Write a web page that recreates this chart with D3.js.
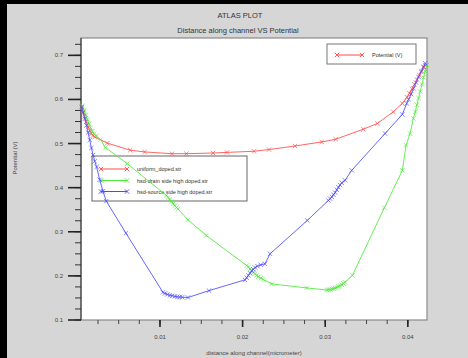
<!DOCTYPE html>
<html>
<head>
<meta charset="utf-8">
<script src="https://cdn.jsdelivr.net/npm/d3@7"></script>
<style>
body { margin: 0; background: #d6d6d6; }
svg { display: block; font-family: "Liberation Sans", Arial, sans-serif; }
</style>
</head>
<body>
<svg id="chart"></svg>
<script>
// values
var uniformX = [0.00056, 0.0007, 0.0009, 0.0011, 0.0013, 0.0015, 0.0017, 0.0019, 0.0021, 0.00362, 0.0064, 0.00815, 0.01145, 0.01319, 0.01642, 0.01811, 0.02138, 0.0232, 0.02634, 0.02958, 0.03127, 0.03461, 0.03631, 0.03824, 0.03933, 0.0399, 0.0402, 0.0405, 0.0408, 0.0411, 0.0414, 0.0417, 0.0419, 0.0421]
var uniformY = [0.581, 0.572, 0.561, 0.549, 0.538, 0.529, 0.522, 0.518, 0.515, 0.501, 0.485, 0.481, 0.477, 0.477, 0.4786, 0.480, 0.4825, 0.4864, 0.4945, 0.5036, 0.5098, 0.5325, 0.5455, 0.5718, 0.591, 0.605, 0.614, 0.624, 0.634, 0.645, 0.655, 0.664, 0.672, 0.678]

var drainX = [0.0006, 0.0008, 0.001, 0.0012, 0.0014, 0.0016, 0.0018, 0.002, 0.0023, 0.00282, 0.00338, 0.00604, 0.01076, 0.0110, 0.0112, 0.0114, 0.0116, 0.0118, 0.0120, 0.01218, 0.01339, 0.0156, 0.0205, 0.0207, 0.0209, 0.0211, 0.0213, 0.0215, 0.0217, 0.0219, 0.0222, 0.0225, 0.02352, 0.02776, 0.03018, 0.0304, 0.0306, 0.0308, 0.0310, 0.0312, 0.0314, 0.0316, 0.0318, 0.0320, 0.0322, 0.0324, 0.03328, 0.03716, 0.03934, 0.03978, 0.04027, 0.04067, 0.0409, 0.0411, 0.0413, 0.0415, 0.0417, 0.0419, 0.0421, 0.0423]
var drainY = [0.585, 0.575, 0.565, 0.555, 0.545, 0.536, 0.528, 0.522, 0.517, 0.509, 0.491, 0.4545, 0.3825, 0.378, 0.373, 0.368, 0.364, 0.359, 0.355, 0.352, 0.327, 0.2916, 0.2234, 0.220, 0.216, 0.212, 0.208, 0.205, 0.201, 0.198, 0.195, 0.192, 0.1818, 0.1727, 0.168, 0.1685, 0.169, 0.170, 0.171, 0.1725, 0.174, 0.176, 0.178, 0.180, 0.183, 0.1855, 0.2007, 0.3545, 0.4393, 0.496, 0.5227, 0.557, 0.572, 0.588, 0.603, 0.618, 0.634, 0.650, 0.664, 0.678]

var sourceX = [0.00052, 0.0007, 0.0009, 0.0011, 0.0013, 0.0015, 0.0017, 0.0019, 0.0021, 0.00233, 0.0027, 0.0031, 0.0035, 0.00588, 0.01036, 0.0106, 0.0109, 0.0112, 0.0115, 0.0118, 0.0121, 0.0124, 0.0127, 0.01339, 0.01593, 0.02029, 0.0205, 0.0207, 0.0209, 0.0211, 0.0213, 0.0215, 0.0218, 0.0222, 0.02271, 0.02332, 0.02783, 0.03038, 0.0306, 0.0308, 0.0310, 0.0312, 0.0314, 0.0316, 0.0318, 0.0320, 0.0324, 0.03321, 0.03724, 0.03933, 0.03987, 0.0401, 0.0404, 0.0407, 0.0410, 0.0413, 0.0416, 0.0419, 0.0421]
var sourceY = [0.583, 0.57, 0.556, 0.541, 0.525, 0.508, 0.49, 0.474, 0.46, 0.447, 0.418, 0.392, 0.3695, 0.2968, 0.1627, 0.160, 0.158, 0.156, 0.155, 0.1535, 0.1525, 0.152, 0.1515, 0.151, 0.1666, 0.191, 0.196, 0.201, 0.206, 0.211, 0.215, 0.219, 0.222, 0.225, 0.2273, 0.25, 0.3257, 0.371, 0.375, 0.379, 0.384, 0.389, 0.395, 0.401, 0.406, 0.411, 0.4166, 0.4393, 0.5227, 0.566, 0.591, 0.600, 0.612, 0.625, 0.638, 0.651, 0.663, 0.674, 0.682]

var seriesNames = ["uniform_doped.str", "hsd-drain side high doped.str", "hsd-source side high doped.str"]
var seriesColors = ["#ff4a4a", "#4ee83a", "#4a4aff"]
var xTicks = [0.01, 0.02, 0.03, 0.04]
var yTicks = [0.1, 0.2, 0.3, 0.4, 0.5, 0.6, 0.7]

var width = 468
var height = 358
var svg = d3.select('#chart').attr('width', width).attr('height', height)

// outer background and black border strips
svg.append('rect').attr('width', width).attr('height', height).attr('fill', '#d6d6d6')
svg.append('rect').attr('x', 0).attr('y', 0).attr('width', width).attr('height', 4).attr('fill', '#000')
svg.append('rect').attr('x', 0).attr('y', 0).attr('width', 7).attr('height', height).attr('fill', '#000')

var x = d3.scaleLinear().domain([0.00044, 0.04232]).range([81, 427])
var y = d3.scaleLinear().domain([0.1, 0.7393]).range([320, 38])

// plot area
svg.append('rect').attr('x', 81).attr('y', 38).attr('width', 346).attr('height', 282)
    .attr('fill', '#fff').attr('stroke', '#8a8a8a').attr('stroke-width', 1.2)

// titles
svg.append('text').attr('x', 240).attr('y', 18).attr('text-anchor', 'middle')
    .attr('font-size', 7.5).attr('fill', '#333').text('ATLAS PLOT')
svg.append('text').attr('x', 238).attr('y', 33).attr('text-anchor', 'middle')
    .attr('font-size', 7.5).attr('fill', '#333').text('Distance along channel VS Potential')

// y axis ticks (outside left)
var yMinor = d3.range(0.1, 0.7301, 0.025)
var yAxisG = svg.append('g').attr('class', 'yaxis')
yAxisG.append('line').attr('x1', 81).attr('x2', 81).attr('y1', 38).attr('y2', 320).attr('stroke', '#333').attr('stroke-width', 1)
yAxisG.selectAll('line.minor').data(yMinor).enter().append('line')
    .attr('class', 'minor')
    .attr('x1', 75).attr('x2', 81)
    .attr('y1', function (d) { return y(d) }).attr('y2', function (d) { return y(d) })
    .attr('stroke', '#333').attr('stroke-width', 1)
yAxisG.selectAll('line.major').data(yTicks).enter().append('line')
    .attr('class', 'major')
    .attr('x1', 68).attr('x2', 81)
    .attr('y1', function (d) { return y(d) }).attr('y2', function (d) { return y(d) })
    .attr('stroke', '#222').attr('stroke-width', 1.6)
yAxisG.selectAll('text').data(yTicks).enter().append('text')
    .attr('x', 63).attr('y', function (d) { return y(d) + 2 })
    .attr('text-anchor', 'end').attr('font-size', 6).attr('fill', '#444')
    .text(function (d) { return d3.format('.1f')(d) })

// x axis ticks (outside bottom)
var xMinor = d3.range(0.0025, 0.0421, 0.0025)
var xAxisG = svg.append('g').attr('class', 'xaxis')
xAxisG.selectAll('line.minor').data(xMinor).enter().append('line')
    .attr('class', 'minor')
    .attr('x1', function (d) { return x(d) }).attr('x2', function (d) { return x(d) })
    .attr('y1', 320).attr('y2', 324)
    .attr('stroke', '#444').attr('stroke-width', 1)
xAxisG.selectAll('line.major').data(xTicks).enter().append('line')
    .attr('class', 'major')
    .attr('x1', function (d) { return x(d) }).attr('x2', function (d) { return x(d) })
    .attr('y1', 320).attr('y2', 327)
    .attr('stroke', '#222').attr('stroke-width', 1.6)
xAxisG.selectAll('text').data(xTicks).enter().append('text')
    .attr('x', function (d) { return x(d) }).attr('y', 339)
    .attr('text-anchor', 'middle').attr('font-size', 6).attr('fill', '#444')
    .text(function (d) { return d3.format('.2f')(d) })

// axis labels
svg.append('text').attr('x', 254).attr('y', 355).attr('text-anchor', 'middle')
    .attr('font-size', 6).attr('fill', '#444').text('distance along channel(micrometer)')
svg.append('text').attr('transform', 'translate(17,158) rotate(-90)').attr('text-anchor', 'middle')
    .attr('font-size', 6).attr('fill', '#444').text('Potential (V)')

function crossPath(cx, cy, s) {
    return 'M' + (cx - s) + ',' + (cy - s) + 'L' + (cx + s) + ',' + (cy + s) +
        'M' + (cx - s) + ',' + (cy + s) + 'L' + (cx + s) + ',' + (cy - s)
}

// legend for the three files (curves are drawn over it)
var leg2 = svg.append('g')
leg2.append('rect').attr('x', 92).attr('y', 156).attr('width', 155).attr('height', 45)
    .attr('fill', '#fff').attr('stroke', '#666').attr('stroke-width', 1)
var legRows = [169, 180.5, 191.5]
seriesNames.forEach(function (name, i) {
    leg2.append('line').attr('x1', 101).attr('x2', 127).attr('y1', legRows[i]).attr('y2', legRows[i])
        .attr('stroke', seriesColors[i]).attr('stroke-width', 1)
    leg2.append('path').attr('d', crossPath(101, legRows[i], 2.2) + crossPath(127, legRows[i], 2.2))
        .attr('stroke', seriesColors[i]).attr('stroke-width', 0.9).attr('fill', 'none')
    leg2.append('text').attr('x', 137).attr('y', legRows[i] + 2).attr('font-size', 5.5)
        .attr('fill', '#333').text(name)
})

var allSeries = [
    { xs: uniformX, ys: uniformY },
    { xs: drainX, ys: drainY },
    { xs: sourceX, ys: sourceY }
]

var line = d3.line().x(function (d) { return x(d[0]) }).y(function (d) { return y(d[1]) })
var plotG = svg.append('g')

allSeries.forEach(function (s, i) {
    var pts = s.xs.map(function (v, k) { return [v, s.ys[k]] })
    plotG.append('path').datum(pts).attr('d', line)
        .attr('fill', 'none').attr('stroke', seriesColors[i]).attr('stroke-width', 1).attr('stroke-opacity', 0.85)
    plotG.selectAll('path.m' + i).data(pts).enter().append('path')
        .attr('class', 'm' + i)
        .attr('d', function (d) { return crossPath(x(d[0]), y(d[1]), 2.2) })
        .attr('stroke', seriesColors[i]).attr('stroke-width', 0.9).attr('stroke-opacity', 0.75)
        .attr('fill', 'none')
})

// legend top right
var leg1 = svg.append('g')
leg1.append('rect').attr('x', 327).attr('y', 44).attr('width', 89).attr('height', 20)
    .attr('fill', '#fff').attr('stroke', '#777').attr('stroke-width', 1)
leg1.append('line').attr('x1', 337).attr('x2', 362).attr('y1', 55).attr('y2', 55)
    .attr('stroke', seriesColors[0]).attr('stroke-width', 1)
leg1.append('path').attr('d', crossPath(337, 55, 2.2) + crossPath(362, 55, 2.2))
    .attr('stroke', seriesColors[0]).attr('stroke-width', 0.9).attr('fill', 'none')
leg1.append('text').attr('x', 372).attr('y', 57).attr('font-size', 5.5).attr('fill', '#333').text('Potential (V)')
</script>
</body>
</html>
